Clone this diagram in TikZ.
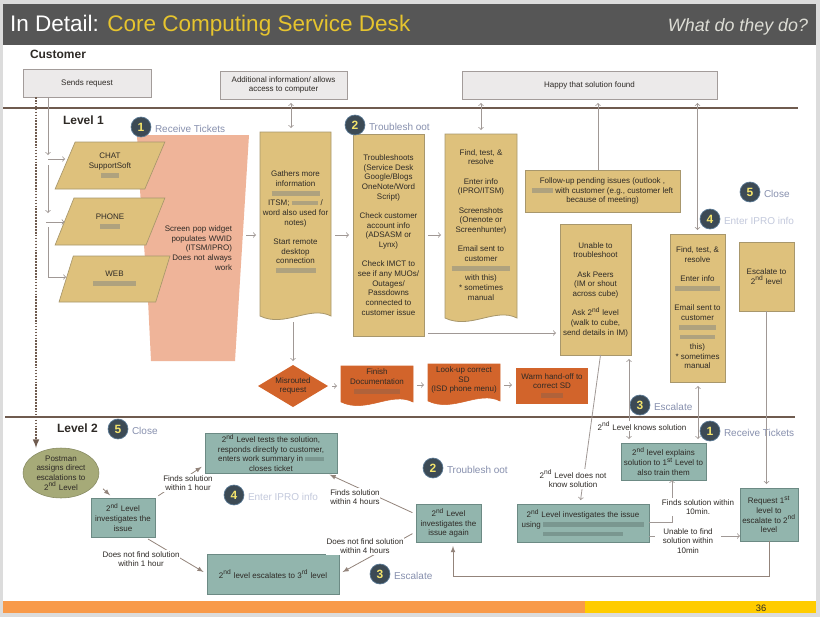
\documentclass[tikz,border=0pt]{standalone}
\usepackage{fontspec}
\setmainfont{Liberation Sans}
\usetikzlibrary{positioning,shapes.geometric}

\definecolor{pagegray}{HTML}{DCDCDC}
\definecolor{barfill}{HTML}{565656}
\definecolor{titleyellow}{HTML}{E6C42E}
\definecolor{subtitlegray}{HTML}{DDDDD5}
\definecolor{sheetfill}{HTML}{ECEAEA}
\definecolor{sheetline}{HTML}{A39C9A}
\definecolor{tanfill}{HTML}{DEC17C}
\definecolor{tanline}{HTML}{A8976C}
\definecolor{salmonfill}{HTML}{EFB499}
\definecolor{rustfill}{HTML}{D2642B}
\definecolor{tealfill}{HTML}{92B5AD}
\definecolor{tealline}{HTML}{6C8A84}
\definecolor{olivefill}{HTML}{A6AA78}
\definecolor{ruleline}{HTML}{6F5B4F}
\definecolor{linkgray}{HTML}{A09895}
\definecolor{inkgray}{HTML}{2E2A26}
\definecolor{markfill}{HTML}{3C4A55}
\definecolor{markline}{HTML}{5B7A96}
\definecolor{markdigit}{HTML}{F3E36C}
\definecolor{steptext}{HTML}{8790AE}
\definecolor{stepblur}{HTML}{C3C9DC}
\definecolor{blurtan}{HTML}{AFA27E}
\definecolor{blurteal}{HTML}{7A9790}
\definecolor{blurrust}{HTML}{B0623A}
\definecolor{blurpale}{HTML}{CDA78F}
\definecolor{footorange}{HTML}{F89A4A}
\definecolor{footyellow}{HTML}{FFCC00}

\newcommand{\boxfont}{\fontsize{6}{7.25}\selectfont}
\newcommand{\smudge}[2][blurtan]{\textcolor{#1}{\rule[0.3pt]{#2pt}{3.6pt}}}
\newcommand{\thsup}[1]{\textsuperscript{#1}}
\newcommand{\wavebox}[5]{\draw[#1] (#2,#3) -- (#4,#3) -- (#4,#5) .. controls ({0.7*#4+0.3*#2},{#5-11}) and ({0.35*#4+0.65*#2},{#5+12}) .. (#2,#5) -- cycle;}

\begin{document}
\begin{tikzpicture}[
    x=0.75pt, y=-0.75pt,
    every node/.style={font=\boxfont, text=inkgray, inner sep=0pt, outer sep=0pt, align=center},
    boxsize/.style 2 args={minimum width=#1*0.75pt, minimum height=#2*0.75pt},
    sheet/.style={rectangle, draw=sheetline, line width=0.6pt, fill=sheetfill},
    tanbox/.style={rectangle, draw=tanline, line width=0.6pt, fill=tanfill},
    tanwave/.style={draw=tanline, line width=0.6pt, fill=tanfill},
    channel/.style={trapezium, trapezium left angle=64, trapezium right angle=116, trapezium stretches=true,
        draw=tanline, line width=0.5pt, fill=tanfill},
    rustbox/.style={rectangle, fill=rustfill},
    rustwave/.style={draw=rustfill, fill=rustfill},
    tealbox/.style={rectangle, draw=tealline, line width=0.7pt, fill=tealfill},
    marker/.style={circle, draw=markline, line width=0.5pt, fill=markfill, minimum size=15pt,
        text=markdigit, font=\fontsize{9}{9}\selectfont\bfseries},
    steplabel/.style={font=\fontsize{7.5}{8}\selectfont},
    levelname/.style={anchor=west, font=\fontsize{9}{10}\selectfont\bfseries},
    link/.style={draw=linkgray, line width=0.6pt, ->},
    flow/.style={link, shorten >=3pt, shorten <=3pt},
    rundown/.style={draw=ruleline!75, line width=0.6pt, -latex, shorten >=3pt, shorten <=3pt},
    levelrule/.style={draw=ruleline, line width=1.1pt},
    linklabel/.style={fill=white, inner sep=0.6pt}
]
\useasboundingbox (0,0) rectangle (820,617);

% Slide
\fill[pagegray] (0,0) rectangle (820,617);
\fill[white] (3,4) rectangle (816,613);
\fill[barfill] (3,4) rectangle (816,45);
\fill[footorange] (3,601) rectangle (585,613);
\fill[footyellow] (585,601) rectangle (816,613);
\node[anchor=west, font=\fontsize{16.9}{18}\selectfont, text=white] (title) at (10,26) {In Detail: \textcolor{titleyellow}{Core Computing Service Desk}};
\node[anchor=east, font=\fontsize{13.4}{15}\selectfont\itshape, text=subtitlegray] (subtitle) at (808,27) {What do they do?};
\node[font=\fontsize{7}{8}\selectfont] (pagenum) at (761,608) {36};

% Niveaux
\draw[levelrule] (3,108) -- (798,108);
\draw[levelrule] (5,417) -- (795,417);
\node[levelname] (customer) at (30,54) {Customer};
\node[levelname] (levelone) at (63,120) {Level 1};
\node[levelname] (leveltwo) at (57,428) {Level 2};

% Customer
\node[sheet, boxsize={128}{28}] (sends) at (87,83) {Sends request};
\node[sheet, boxsize={127}{28}] (extra) at (283.5,85) {Additional information/ allows\\access to computer};
\node[sheet, boxsize={255}{28}] (happy) at (589.5,85) {Happy that solution found};

% Level 1
\fill[salmonfill] (137,135) -- (249,135) -- (235,361) -- (151,361) -- (148,300) -- (144,245) -- (140,190) -- cycle;
\node[channel, boxsize={110}{47}] (chat) at (110,165.5) {CHAT\\SupportSoft\\\smudge{14}};
\node[channel, boxsize={110}{47}] (phone) at (110,221.5) {PHONE\\\smudge{15}};
\node[channel, boxsize={111}{46}] (web) at (114.5,279) {WEB\\\smudge{32}};
\node[anchor=east, align=right, text width=70pt] (screen) at (232,248) {Screen pop widget\\populates WWID\\(ITSM/IPRO)\\*Does not always\\work};

\wavebox{tanwave}{260}{132}{331}{316}
\node[boxsize={71}{190}] (gather) at (295.5,227) {Gathers more\\information\\\smudge{36}\\ITSM; \smudge{20} /\\word also used for\\notes)\\ \\Start remote\\desktop\\connection\\\smudge{30}\\ };
\node[tanbox, boxsize={71}{202}] (trouble) at (388.5,235) {Troubleshoots\\(Service Desk\\Google/Blogs\\OneNote/Word\\Script)\\ \\Check customer\\account info\\(ADSASM or\\Lynx)\\ \\Check IMCT to\\see if any MUOs/\\Outages/\\Passdowns\\connected to\\customer issue};
\wavebox{tanwave}{445}{134}{517}{318}
\node[boxsize={72}{191}] (find) at (481,229.5) {Find, test, \&\\resolve\\ \\Enter info\\(IPRO/ITSM)\\ \\Screenshots\\(Onenote or\\Screenhunter)\\ \\Email sent to\\customer\\\smudge{44}\\with this)\\* sometimes\\manual\\ };
\node[tanbox, boxsize={155}{42}] (followup) at (602.5,191) {Follow-up  pending issues (outlook ,\\\smudge{16} with customer (e.g., customer left\\because of meeting)};
\node[tanbox, boxsize={71}{131}] (unable) at (595.5,289.5) {Unable to\\troubleshoot\\ \\Ask Peers\\(IM or shout\\across cube)\\ \\Ask 2\thsup{nd} level\\(walk to cube,\\send details in IM)};
\node[tanbox, boxsize={55}{148}] (findtwo) at (697.5,308) {Find, test, \&\\resolve\\ \\Enter info\\\smudge{34}\\ \\Email sent to\\customer\\\smudge{28}\\\smudge{26}\\this)\\* sometimes\\manual};
\node[tanbox, boxsize={55}{69}] (escalate) at (766.5,276.5) {Escalate to\\2\thsup{nd} level};

\node[diamond, fill=rustfill, boxsize={70}{42}, aspect=1.67] (misrouted) at (293,386) {Misrouted\\request};
\wavebox{rustwave}{341}{366}{413}{402}
\node[boxsize={72}{31}] (finish) at (377,381.5) {Finish\\Documentation\\\smudge[blurrust]{34}};
\wavebox{rustwave}{428}{364}{500}{401}
\node[boxsize={72}{32}] (lookup) at (464,380) {Look-up correct\\SD\\(ISD phone menu)};
\node[rustbox, boxsize={72}{36}] (warm) at (552,386) {Warm hand-off to\\correct SD\\\smudge[blurrust]{16}};

% Level 2
\node[ellipse, draw=olivefill!80!black, line width=0.4pt, fill=olivefill, boxsize={76}{50}] (postman) at (61,473) {Postman\\assigns direct\\escalations to\\2\thsup{nd} Level};
\node[tealbox, boxsize={132}{40}] (test) at (271,453) {2\thsup{nd} Level tests the solution,\\responds directly to customer,\\enters work summary in \smudge[blurteal]{14}\\closes ticket};
\node[tealbox, boxsize={64}{39}] (invest) at (123,517.5) {2\thsup{nd} Level\\investigates the\\issue};
\node[tealbox, boxsize={132}{40}] (third) at (273,574) {2\thsup{nd} level escalates to 3\thsup{rd} level};
\node[tealbox, boxsize={65}{38}] (again) at (448.5,523) {2\thsup{nd} Level\\investigates the\\issue again};
\node[tealbox, boxsize={132}{38}] (lookinto) at (583,523) {2\thsup{nd} Level investigates the issue\\using \smudge[blurteal]{76}\\\smudge[blurteal]{60}};
\node[tealbox, boxsize={85}{37}] (explains) at (663.5,461.5) {2\thsup{nd} level explains\\solution to 1\thsup{st} Level to\\also train them};
\node[tealbox, boxsize={58}{53}] (request) at (769,514.5) {Request 1\thsup{st}\\level to\\escalate to 2\thsup{nd}\\level};

% Reperes
\foreach \k/\px/\py/\num/\txt/\c in {a/141/127/1/Receive Tickets/steptext, b/355/125/2/Troublesh oot/steptext,
    c/750/192/5/Close/steptext, d/710/219/4/Enter IPRO info/stepblur, e/640/405/3/Escalate/steptext,
    f/710/431/1/Receive Tickets/steptext, g/118/429/5/Close/steptext, h/433/468/2/Troublesh oot/steptext,
    i/234/495/4/Enter IPRO info/stepblur, j/380/574/3/Escalate/steptext} {
    \node[marker] (mark\k) at (\px,\py) {\num};
    \node[steplabel, text=\c, right=3pt of mark\k, yshift=-1.5pt] (step\k) {\txt};
}

% Coordonnees libres
\coordinate (tapa) at (48,155);
\coordinate (tapb) at (48,159);
\coordinate (tapc) at (48,165);
\coordinate (tapd) at (48,213);
\coordinate (tape) at (46,222);
\coordinate (tapf) at (48,227);
\coordinate (tapg) at (48,277);
\coordinate (dropline) at (36,0);
\coordinate (rowmain) at (0,235);
\coordinate (rowlate) at (0,333);
\coordinate (rowhand) at (0,385);
\coordinate (rowunable) at (0,536);
\coordinate (colextra) at (291,0);
\coordinate (colfollow) at (598,0);
\coordinate (colknows) at (629,0);
\coordinate (coltrain) at (698,0);
\coordinate (turnfound) at (672,522);
\coordinate (turnback) at (453,576);

% Connexions
\draw[link] (tapa |- sends.south) -- (tapa);
\draw[link] (tapb) -- (tapb -| chat.west);
\draw[link] (tapc) -- (tapd);
\draw[link] (tape) -- (tape -| phone.west);
\draw[link, -] (tapf) -- (tapg);
\draw[link] (tapg) -- (tapg -| web.west);
\draw[draw=ruleline, densely dotted, line width=1.2pt, -latex] (dropline |- sends.south) -- (dropline |- postman.north);

\draw[flow, <->] (colextra |- extra.south) -- (colextra |- gather.north);
\draw[flow, <->] (find.north) -- (find.north |- happy.south);
\draw[link, shorten >=3pt] (colfollow |- followup.north) -- (colfollow |- happy.south);
\draw[flow, <->] (findtwo.north) -- (findtwo.north |- happy.south);

\draw[flow] (screen.east |- rowmain) ++(10,0) -- (gather.west |- rowmain);
\draw[flow] (gather.east |- rowmain) -- (trouble.west |- rowmain);
\draw[flow] (trouble.east |- rowmain) -- (find.west |- rowmain);
\draw[flow] (trouble.east |- rowlate) -- (unable.west |- rowlate);
\draw[link, shorten >=3pt] (misrouted |- gather.south) -- (misrouted.north);
\draw[flow] (misrouted.east) -- (finish.west |- misrouted.east);
\draw[flow] (finish.east |- rowhand) -- (lookup.west |- rowhand);
\draw[flow] (lookup.east |- rowhand) -- (warm.west |- rowhand);

\draw[link, shorten >=3pt] ([xshift=3.75pt]unable.south) -- ([xshift=-2.25pt]lookinto.north);
\draw[flow, <->] (colknows |- unable.south) -- (colknows |- explains.north);
\draw[flow, <->] (coltrain |- findtwo.south) -- (coltrain |- explains.north);
\draw[link, shorten >=3pt] (escalate.south) -- (escalate.south |- request.north);
\draw[link] (lookinto.east |- turnfound) -- (turnfound) -- (turnfound |- explains.south);
\draw[link] (lookinto.east |- rowunable) -- (request.west |- rowunable);
\draw[rundown, shorten <=0pt] (request.south) |- (turnback) -- (turnback |- again.south);

\draw[rundown, shorten <=7pt] (postman.-15) -- ([xshift=-7.5pt]invest.north);
\draw[rundown] (invest.north east) -- (test.190);
\draw[rundown] (invest.-42) -- (third.west);
\draw[rundown] (again.165) -- (test.-20);
\draw[rundown] (again.195) -- (third.east);

% Etiquettes
\node[linklabel] (doesnotknow) at (573,479) {2\thsup{nd} Level does not\\know solution};
\node[linklabel] (knows) at (642,426) {2\thsup{nd} Level knows solution};
\node[linklabel] (tenfound) at (698,507) {Finds solution within\\10min.};
\node[linklabel, minimum width=50pt] (tenunable) at (688,541) {Unable to find\\solution within\\10min};
\node[linklabel] (hourfound) at (188,483) {Finds solution\\within 1 hour};
\node[linklabel] (hourlost) at (141,559) {Does not find solution\\within 1 hour};
\node[linklabel] (fourfound) at (355,497) {Finds solution\\within 4 hours};
\node[linklabel] (fourlost) at (365,546) {Does not find solution\\within 4 hours};

\end{tikzpicture}
\end{document}
